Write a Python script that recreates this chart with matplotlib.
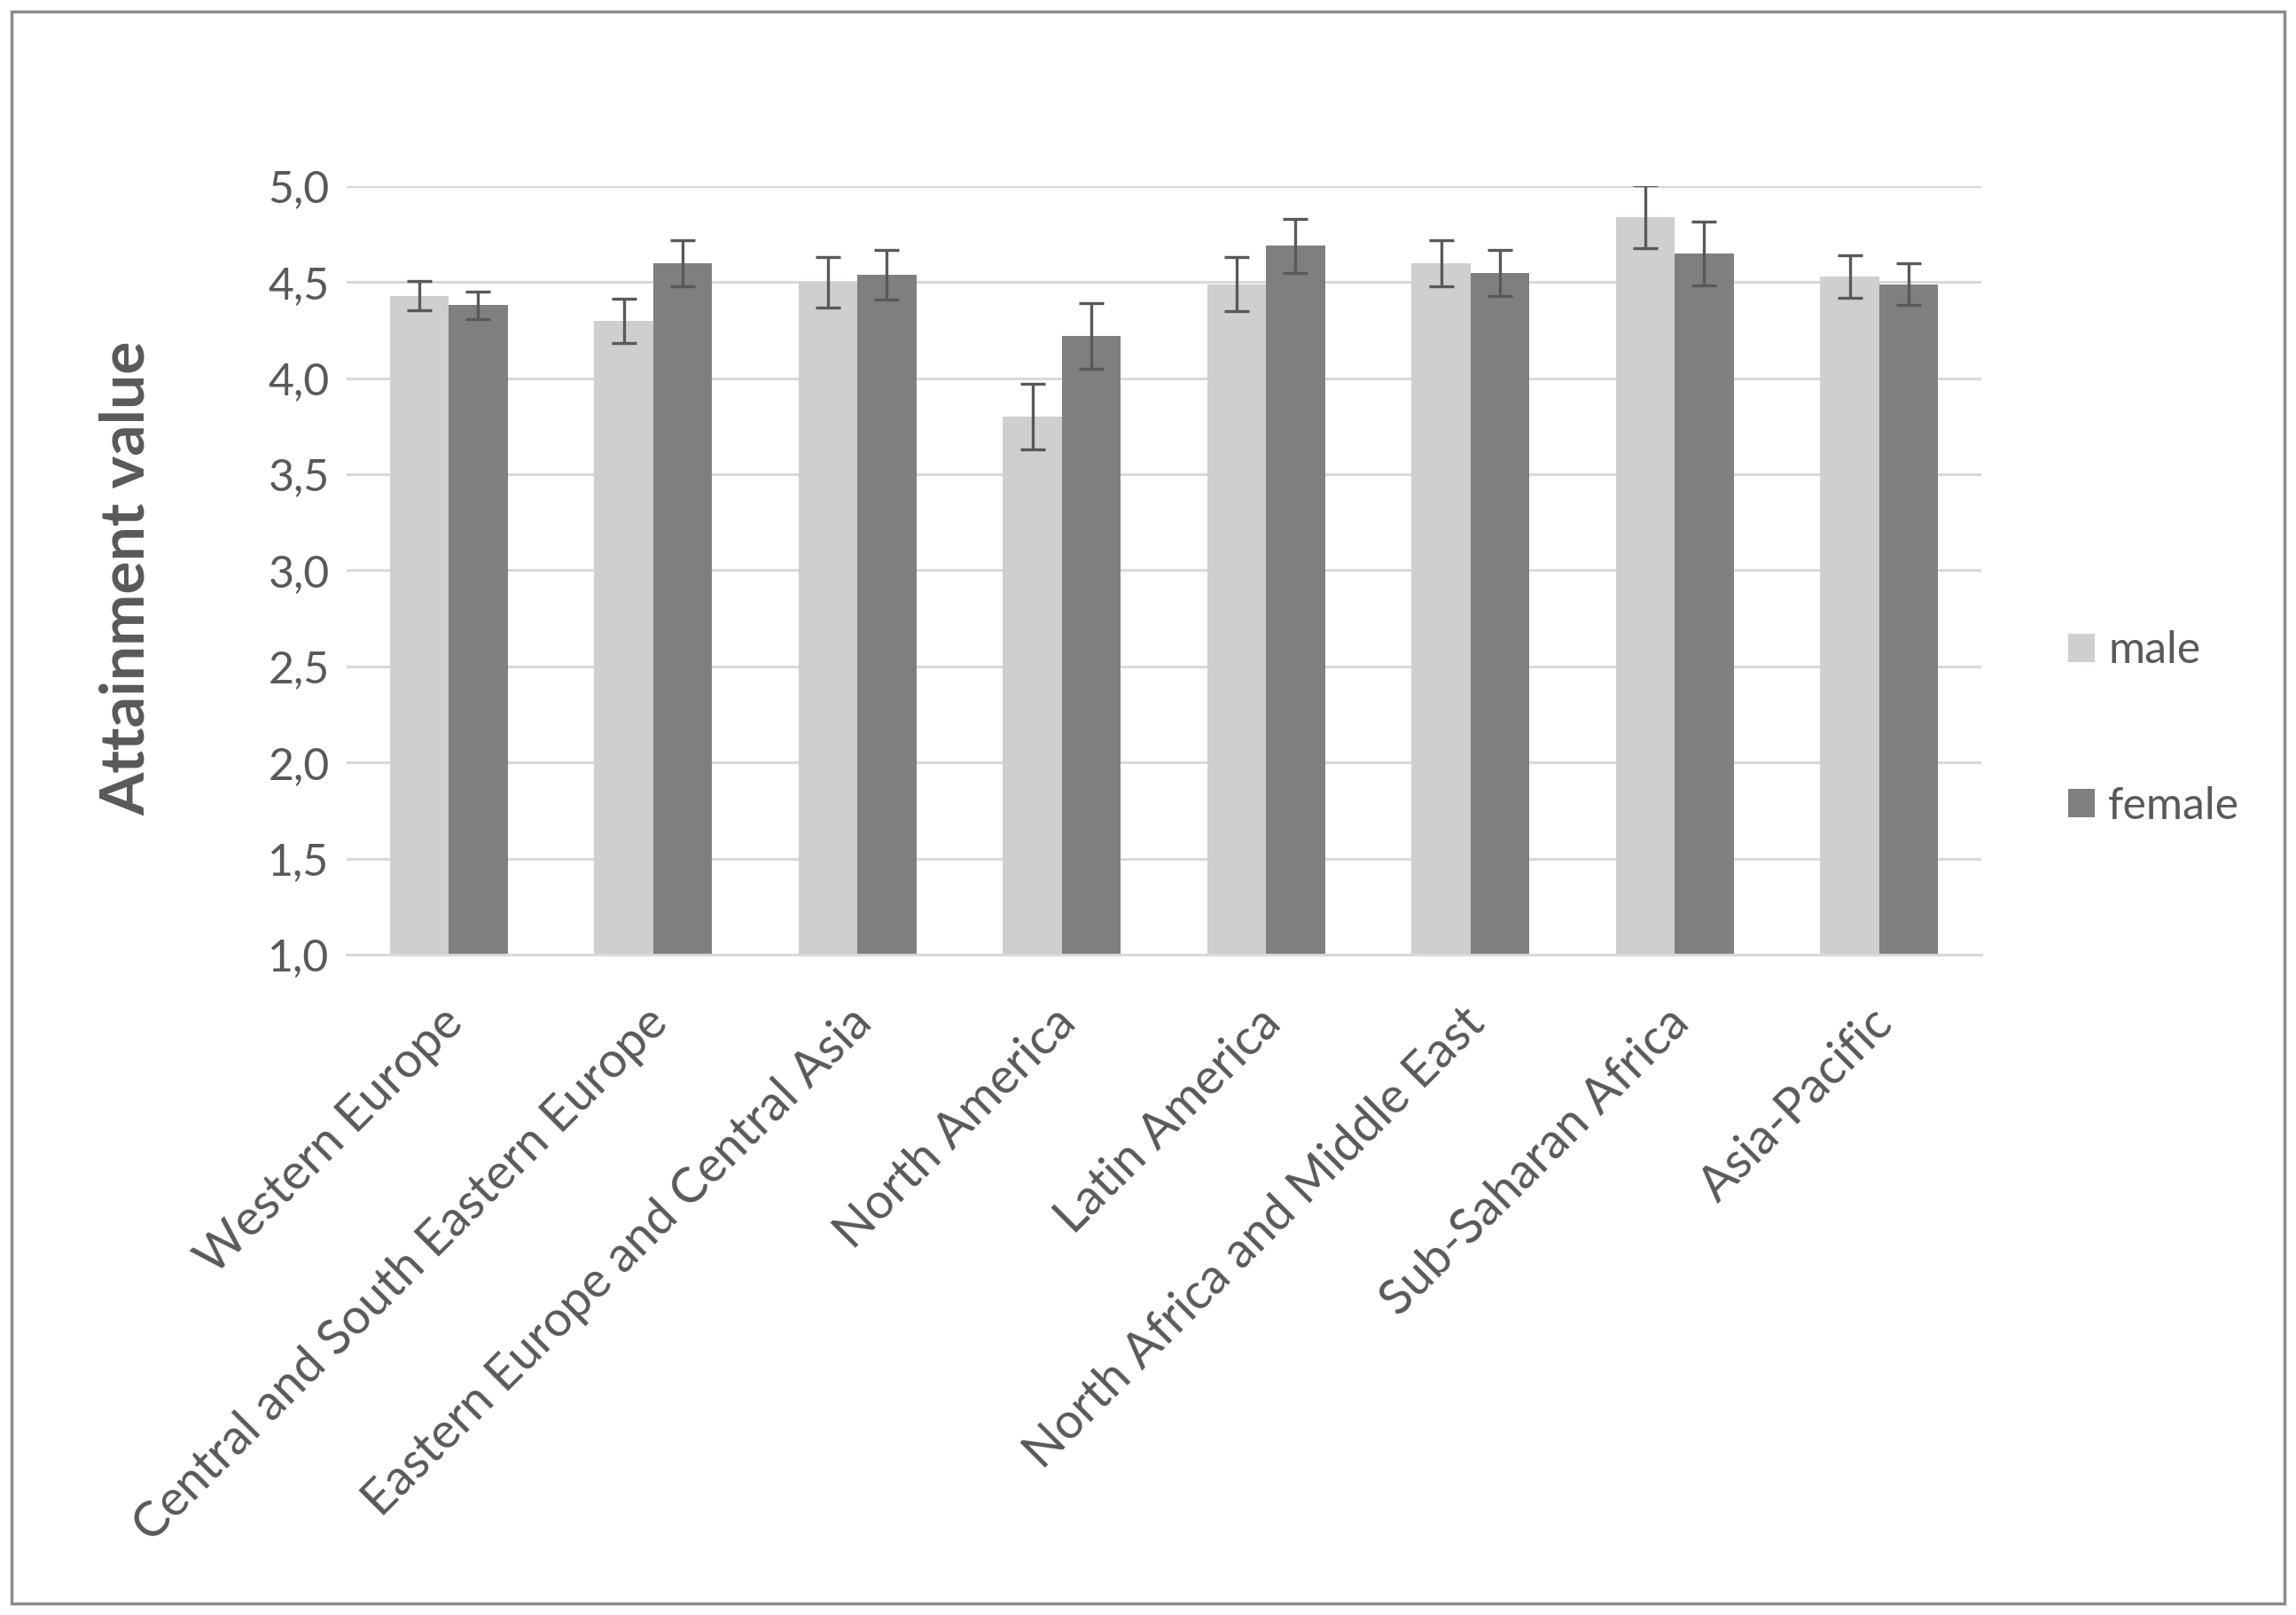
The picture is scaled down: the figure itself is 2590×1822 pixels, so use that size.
import matplotlib
matplotlib.use("Agg")
import matplotlib.pyplot as plt
import matplotlib.transforms as mtransforms
import numpy as np
from matplotlib.patches import Patch, Rectangle

regions = ["Western Europe", "Central and South Eastern Europe",
           "Eastern Europe and Central Asia", "North America", "Latin America",
           "North Africa and Middle East", "Sub-Saharan Africa", "Asia-Pacific"]
male = [4.43, 4.30, 4.50, 3.80, 4.49, 4.60, 4.84, 4.53]
female = [4.38, 4.60, 4.54, 4.22, 4.69, 4.55, 4.65, 4.49]
male_err = [0.075, 0.115, 0.13, 0.17, 0.14, 0.12, 0.165, 0.11]
female_err = [0.07, 0.12, 0.13, 0.17, 0.14, 0.12, 0.165, 0.11]
series_labels = ["male", "female"]
yticks = [1.0, 1.5, 2.0, 2.5, 3.0, 3.5, 4.0, 4.5, 5.0]

FONT = ["Lato", "DejaVu Sans"]
TXT = "#595959"
plt.rcParams['font.family'] = FONT

W, H = 2590, 1822
fig = plt.figure(figsize=(W / 100, H / 100), dpi=100)
ax = fig.add_axes([391 / W, 1 - 1077 / H, (2235 - 391) / W, (1077 - 210) / H])

x = np.arange(len(regions))
bw = 0.2875
ekw = dict(ecolor=TXT, elinewidth=2.4, capsize=10, capthick=2.4)
ax.bar(x - bw / 2, male, bw, color="#D0CECE", label=series_labels[0], zorder=2)
ax.bar(x + bw / 2, female, bw, color="#7F7F7F", label=series_labels[1], zorder=2)
ax.errorbar(x - bw / 2, male, yerr=male_err, fmt="none", zorder=3, **ekw)
ax.errorbar(x + bw / 2, female, yerr=female_err, fmt="none", zorder=3, **ekw)

ax.set_ylim(1.0, 5.0)
ax.set_xlim(-0.5, len(regions) - 0.5)
ax.set_yticks(yticks)
ax.set_yticklabels([f"{v:.1f}".replace(".", ",") for v in yticks])
ax.yaxis.grid(True, color="#D9D9D9", linewidth=2.2, zorder=0)
ax.set_axisbelow(True)
for s in ["top", "right", "left"]:
    ax.spines[s].set_visible(False)
ax.spines["bottom"].set_color("#D9D9D9")
ax.spines["bottom"].set_linewidth(2.2)
ax.tick_params(axis="y", length=0, labelsize=36, colors=TXT, pad=14)
ax.tick_params(axis="x", length=0, labelsize=40, colors=TXT, pad=26)
ax.set_xticks(x)
ax.set_xticklabels(regions, rotation=45, ha="right", va="center", rotation_mode="anchor")
shift = mtransforms.ScaledTranslation(8 / 100, -33 / 100, fig.dpi_scale_trans)
for lbl in ax.get_xticklabels():
    lbl.set_color(TXT)
    lbl.set_transform(lbl.get_transform() + shift)

ax.set_ylabel("Attainment value", fontsize=50, fontweight="bold", color=TXT)
ax.yaxis.set_label_coords((175 - 391) / 1844, 0.49)

handles = [Patch(facecolor="#D0CECE"), Patch(facecolor="#7F7F7F")]
leg = fig.legend(handles, series_labels, loc="center left",
                 bbox_to_anchor=(2333 / W, 1 - 822 / H), frameon=False,
                 fontsize=36, labelcolor=TXT, handlelength=0.6, handleheight=0.6,
                 handletextpad=0.3, labelspacing=2.58, borderpad=0, borderaxespad=0)

fig.patches.append(Rectangle((13 / W, 13 / H), 1 - 26 / W, 1 - 26 / H,
                             transform=fig.transFigure, fill=False,
                             edgecolor="#8C8C8C", linewidth=2.5))

fig.savefig("out.png", dpi=100, facecolor="white")
